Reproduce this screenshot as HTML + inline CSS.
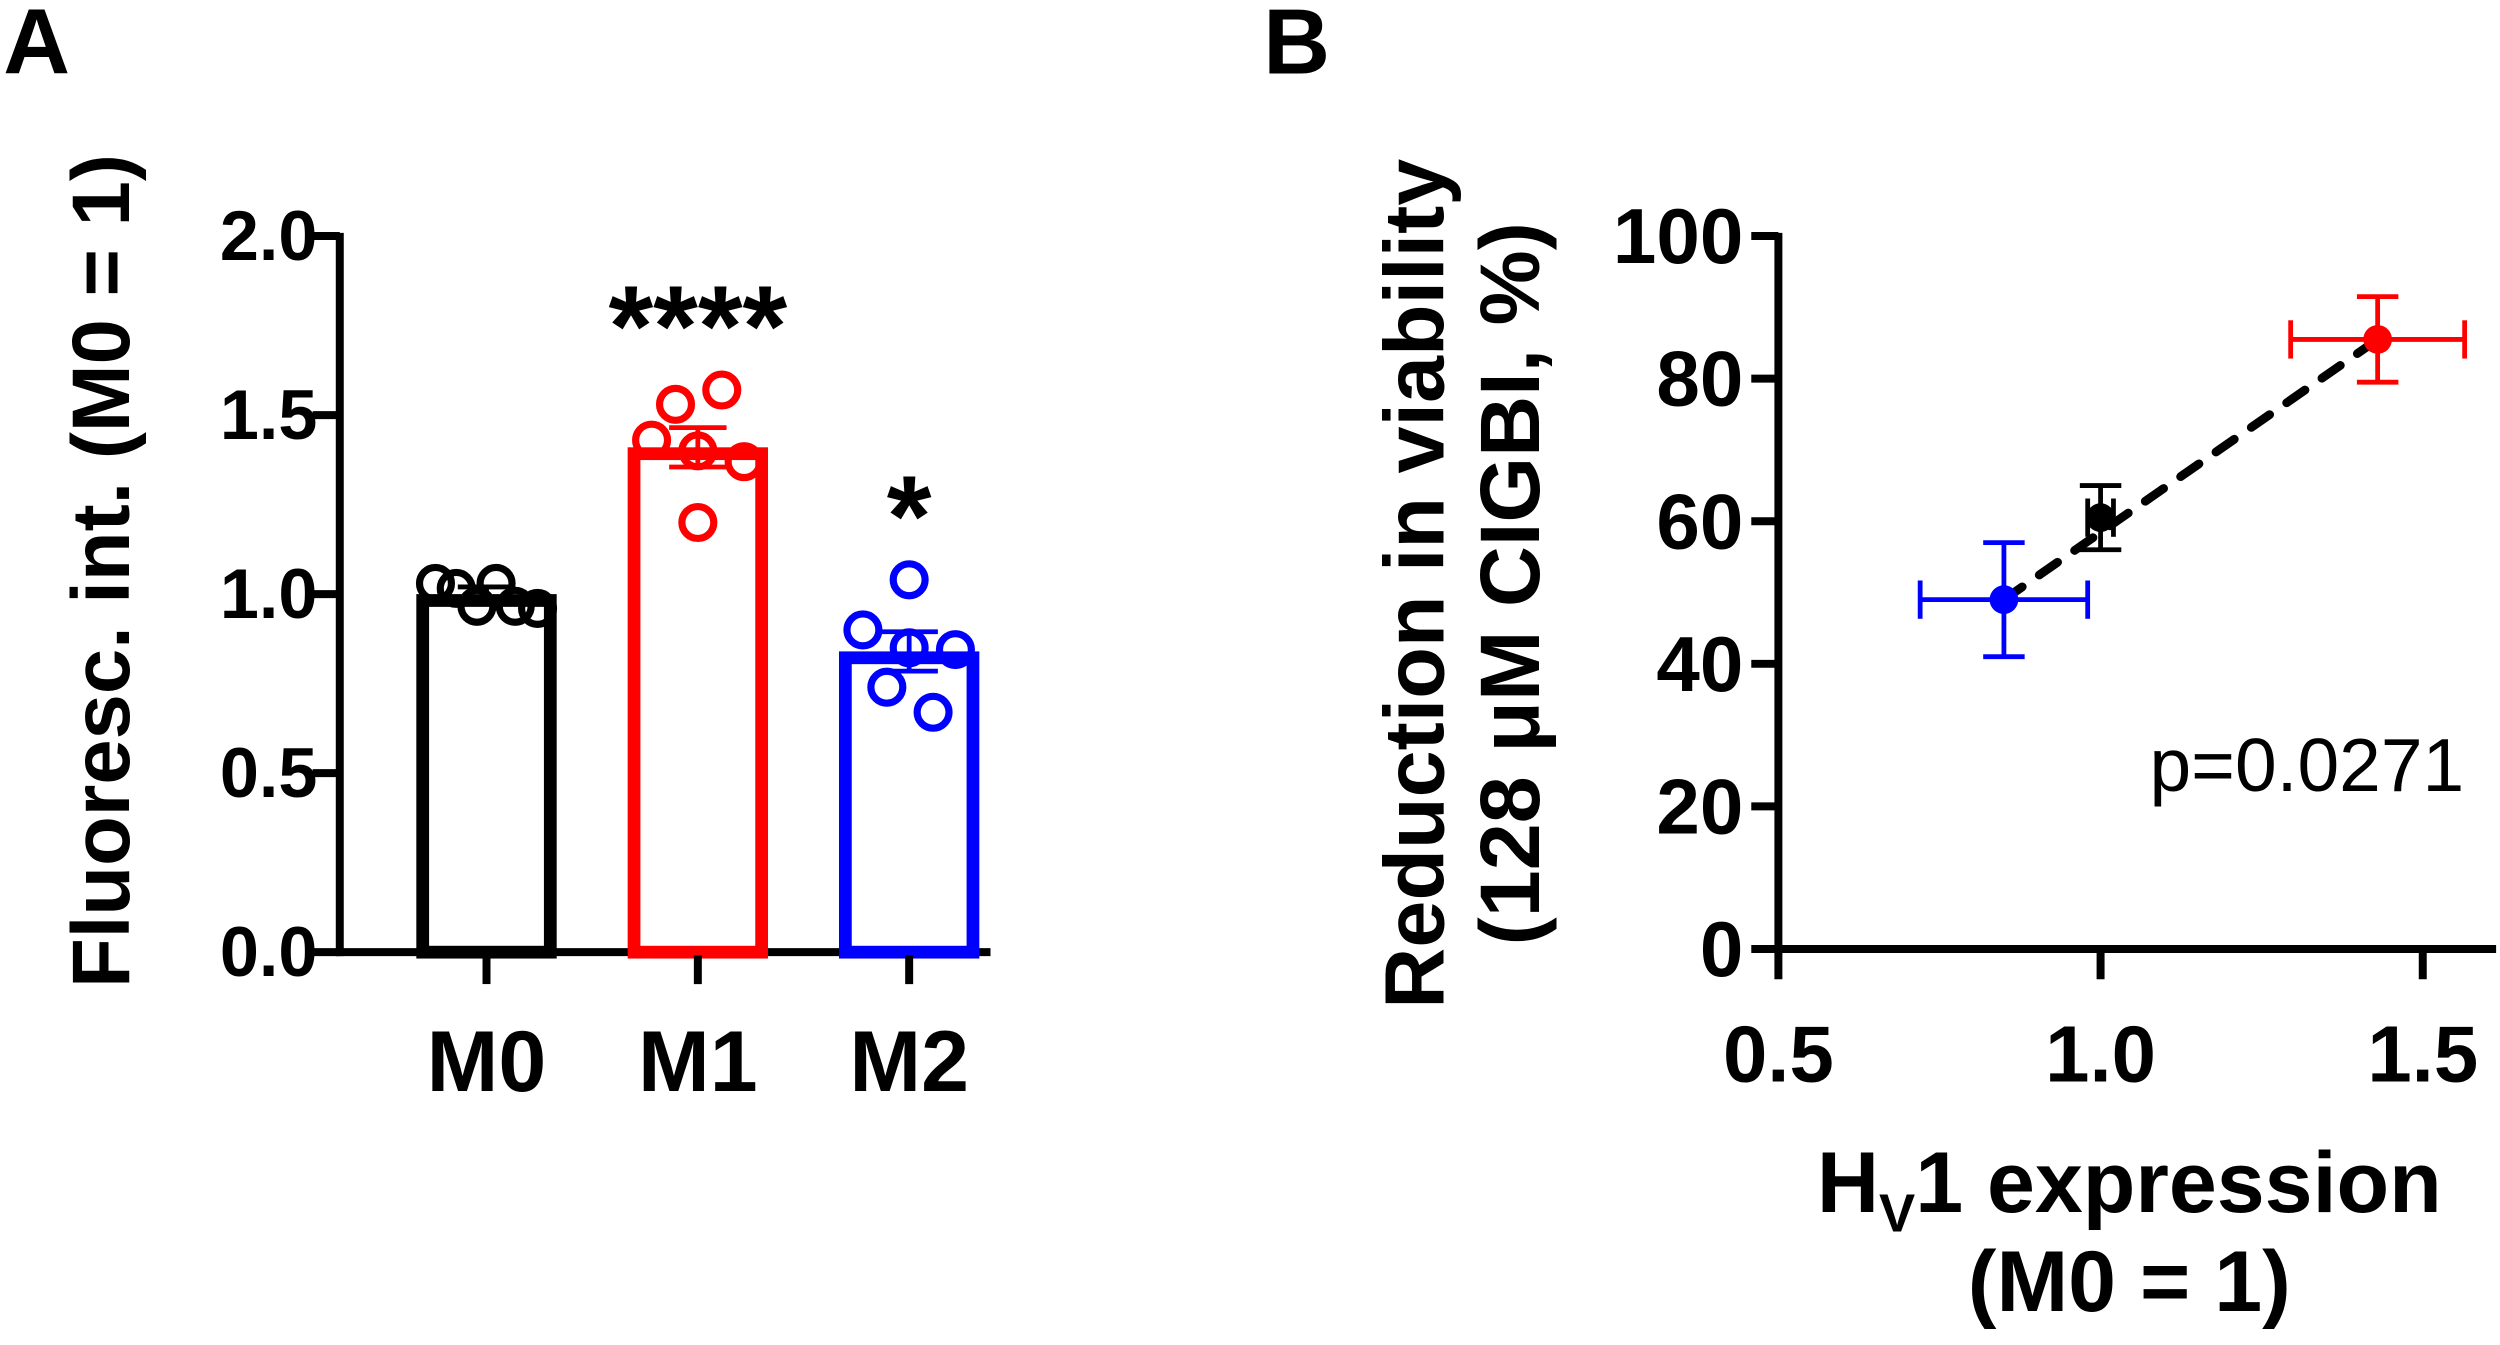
<!DOCTYPE html>
<html><head><meta charset="utf-8"><style>html,body{margin:0;padding:0;background:#fff}svg{display:block}text{font-family:"Liberation Sans",Arial,sans-serif}</style></head>
<body>
<svg id="fig" width="2500" height="1345" viewBox="0 0 1567.4 843.3" xmlns="http://www.w3.org/2000/svg">
<text x="2" y="46" font-size="58" font-weight="bold">A</text>
<text x="792" y="46" font-size="58" font-weight="bold">B</text>
<g id="A"></g>
<g id="B"></g>
</svg>
<script>
const NS='http://www.w3.org/2000/svg';
const barCats=['M0','M1','M2'];
const barMeans=[1.0,1.41,0.84];
const barSem=[0.02,0.055,0.055];
const barColors=['#000','#ff0000','#0000ff'];
const pointsM0=[1.03,1.016,1.03,0.966,0.966,0.96];
const pointsM1=[1.53,1.57,1.43,1.40,1.37,1.20];
const pointsM2=[1.04,0.90,0.85,0.845,0.74,0.67];
const sigLabels=['','****','*'];
const yTicksA=['0.0','0.5','1.0','1.5','2.0'];
const jitM0=[-32,-19,6,-6,18,32];
const jitM1=[-14,15,-29,0,29,0];
const jitM2=[0,-29,0,29,-14,15];

const sxB=[0.85,1.0,1.43];
const syB=[49,60.5,85.5];
const sxErr=[0.13,0.02,0.135];
const syErr=[8,4.5,6];
const sColors=['#0000ff','#000','#ff0000'];
const xTicksB=['0.5','1.0','1.5'];
const yTicksB=['0','20','40','60','80','100'];

function el(p,t,a){const e=document.createElementNS(NS,t);for(const k in a)e.setAttribute(k,a[k]);p.appendChild(e);return e;}
function txt(p,x,y,s,size,extra){const e=el(p,'text',Object.assign({x:x,y:y,'font-size':size,'font-weight':'bold'},extra||{}));e.textContent=s;return e;}

// Panel A
const A=document.getElementById('A');
const yA=v=>597-v/2*449;
const xA=i=>305+i*132.5;
el(A,'line',{x1:213,y1:146,x2:213,y2:599.5,stroke:'#000','stroke-width':5,});
el(A,'line',{x1:210.5,y1:597,x2:621,y2:597,stroke:'#000','stroke-width':5,});
yTicksA.forEach((t,i)=>{const v=parseFloat(t);const y=yA(v);
 el(A,'line',{x1:196,y1:y,x2:213,y2:y,stroke:'#000','stroke-width':5,});
 txt(A,199,y+15,t,44,{'text-anchor':'end',});});
txt(A,0,0,'Fluoresc. int. (M0 = 1)',51,{'text-anchor':'middle',transform:'translate(81,358) rotate(-90)',});
const pts=[pointsM0,pointsM1,pointsM2], jit=[jitM0,jitM1,jitM2];
barCats.forEach((c,i)=>{const cx=xA(i),col=barColors[i];
 const b=el(A,'rect',{x:cx-40,y:yA(barMeans[i])+4,width:80,height:597-yA(barMeans[i])-4,fill:'none',stroke:col,'stroke-width':8});
 
 el(A,'line',{x1:cx,y1:597+2,x2:cx,y2:617,stroke:'#000','stroke-width':5,});
 txt(A,cx,684,c,54,{'text-anchor':'middle',});
 const g=el(A,'g',{stroke:col,'stroke-width':3});
 const yt=yA(barMeans[i]+barSem[i]),yb=yA(barMeans[i]-barSem[i]);
 el(g,'line',{x1:cx,y1:yt,x2:cx,y2:yb});el(g,'line',{x1:cx-18,y1:yt,x2:cx+18,y2:yt});el(g,'line',{x1:cx-18,y1:yb,x2:cx+18,y2:yb});
 pts[i].forEach((v,j)=>{const p=el(A,'circle',{cx:cx+jit[i][j],cy:yA(v),r:10,fill:'none',stroke:col,'stroke-width':4.5});
  });
 if(sigLabels[i]){const top=Math.max(...pts[i]);txt(A,cx,yA(top)-15,sigLabels[i],72,{'text-anchor':'middle',});}
});

// Panel B
const B=document.getElementById('B');
const xB=v=>1115+(v-0.5)*404;
const yB=v=>595-v*4.47;
el(B,'line',{x1:1115,y1:146,x2:1115,y2:597.5,stroke:'#000','stroke-width':5,});
el(B,'line',{x1:1112.5,y1:595,x2:1565,y2:595,stroke:'#000','stroke-width':5,});
yTicksB.forEach(t=>{const y=yB(parseFloat(t));
 el(B,'line',{x1:1098,y1:y,x2:1115,y2:y,stroke:'#000','stroke-width':5,});
 txt(B,1093,y+17,t,49,{'text-anchor':'end',});});
xTicksB.forEach(t=>{const x=xB(parseFloat(t));
 el(B,'line',{x1:x,y1:595,x2:x,y2:614,stroke:'#000','stroke-width':5,});
 txt(B,x,678,t,50,{'text-anchor':'middle',});});
txt(B,0,0,'Reduction in viability',53,{'text-anchor':'middle',transform:'translate(905,366) rotate(-90)',});
txt(B,0,0,'(128 μM CIGBI, %)',53,{'text-anchor':'middle',transform:'translate(965,366) rotate(-90)',});
const xt=el(B,'text',{x:1335,y:760,'font-size':54,'font-weight':'bold','text-anchor':'middle',});
xt.innerHTML='H<tspan font-size="34" dy="12">V</tspan><tspan dy="-12">1 expression</tspan>';
txt(B,1335,822,'(M0 = 1)',54,{'text-anchor':'middle',});
el(B,'line',{x1:xB(sxB[0]),y1:yB(syB[0]),x2:xB(sxB[2]),y2:yB(syB[2]),stroke:'#000','stroke-width':5.5,'stroke-dasharray':'14 13','stroke-linecap':'round',});
sxB.forEach((x,i)=>{const cx=xB(x),cy=yB(syB[i]),col=sColors[i];
 const g=el(B,'g',{stroke:col,'stroke-width':3,});
 const x1=xB(x-sxErr[i]),x2=xB(x+sxErr[i]),y1=yB(syB[i]+syErr[i]),y2=yB(syB[i]-syErr[i]);
 el(g,'line',{x1:x1,y1:cy,x2:x2,y2:cy});el(g,'line',{x1:x1,y1:cy-12,x2:x1,y2:cy+12});el(g,'line',{x1:x2,y1:cy-12,x2:x2,y2:cy+12});
 el(g,'line',{x1:cx,y1:y1,x2:cx,y2:y2});el(g,'line',{x1:cx-13,y1:y1,x2:cx+13,y2:y1});el(g,'line',{x1:cx-13,y1:y2,x2:cx+13,y2:y2});
 const c=el(B,'circle',{cx:cx,cy:cy,r:9,fill:col});
 
});
const pt=el(B,'text',{x:1545,y:496,'font-size':47,'text-anchor':'end',});pt.textContent='p=0.0271';
</script>
</body></html>
